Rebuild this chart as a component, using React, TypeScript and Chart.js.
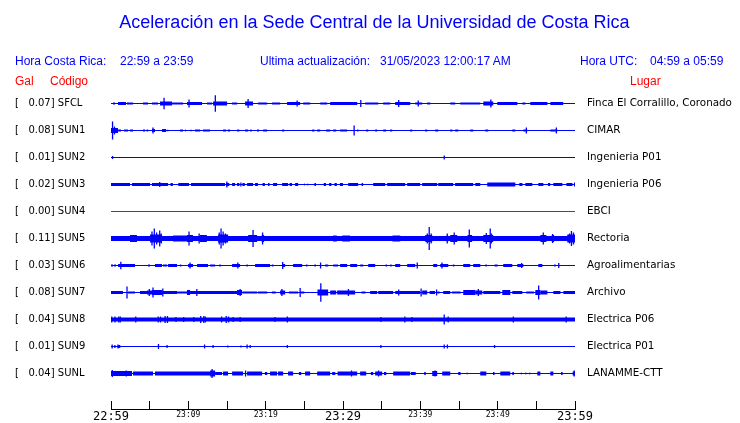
import React, { useEffect, useRef } from "react";
import { Chart, registerables } from "chart.js";

Chart.register(...registerables);

// ---------------- DATA ----------------
const TITLE = "Aceleración en la Sede Central de la Universidad de Costa Rica";
const LOCAL_TIME_RANGE = "22:59 a 23:59";
const UTC_TIME_RANGE = "04:59 a 05:59";
const LAST_UPDATE = "31/05/2023 12:00:17 AM";

const STATIONS = ["SFCL", "SUN1", "SUN2", "SUN3", "SUN4", "SUN5", "SUN6", "SUN7", "SUN8", "SUN9", "SUNL"];
const PEAK_GAL = [0.07, 0.08, 0.01, 0.02, 0.0, 0.11, 0.03, 0.08, 0.04, 0.01, 0.04];
const PLACES = [
  "Finca El Corralillo, Coronado",
  "CIMAR",
  "Ingenieria P01",
  "Ingenieria P06",
  "EBCI",
  "Rectoria",
  "Agroalimentarias",
  "Archivo",
  "Electrica P06",
  "Electrica P01",
  "LANAMME-CTT",
];
const OFFLINE_STATIONS = ["SUN4"];

// minutes after 22:59
const TIME_TICKS = [0, 5, 10, 15, 20, 25, 30, 35, 40, 45, 50, 55, 60];
const TIME_LABELS = ["22:59", "", "23:09", "", "23:19", "", "23:29", "", "23:39", "", "23:49", "", "23:59"];
const MAJOR_LABELS = ["22:59", "23:29", "23:59"];

// noise bursts: [startMinute, endMinute, halfAmplitude]
const SFCL_BURSTS = [
  [0.26, 0.52, 1], [0.91, 1.94, 1.5], [2.07, 2.85, 1], [4.14, 4.79, 1], [5.3, 6.08, 1], [6.34, 7.89, 2],
  [7.89, 9.32, 1], [9.83, 11.77, 1.5], [12.42, 13.07, 1], [13.2, 15.01, 2], [15.66, 16.3, 1], [17.34, 18.37, 2],
  [19.02, 20.19, 1], [20.83, 21.87, 1], [22.77, 24.46, 1.5], [24.85, 25.75, 1], [27.05, 27.95, 1],
  [28.34, 31.83, 1.5], [32.87, 34.55, 1], [35.2, 36.1, 1], [36.75, 38.69, 1.5], [39.34, 40.24, 1],
  [40.89, 41.28, 1], [43.87, 44.51, 1], [45.16, 47.75, 1], [48.14, 49.43, 2], [49.95, 52.54, 1.5],
  [53.19, 53.58, 1], [54.22, 56.43, 1.5], [56.81, 58.47, 1.5], [59.1, 59.2, 1.5],
];
const SUN1_BURSTS = [
  [0, 0.9, 2.5], [0.91, 1.3, 1], [1.7, 2.2, 1], [2.46, 2.85, 1], [3.75, 3.85, 1], [4.14, 4.4, 1], [4.6, 4.8, 1],
  [5.3, 5.69, 1.5], [6.6, 7.12, 1.5], [7.3, 7.4, 1], [8.93, 9.32, 1], [9.6, 9.7, 1], [10.3, 10.4, 1], [10.87, 11.52, 1],
  [11.9, 12.81, 1], [14.49, 14.88, 1], [15.1, 15.4, 1], [16.3, 16.6, 1], [17.34, 17.73, 1], [18.0, 18.2, 1],
  [18.89, 19.15, 1], [19.67, 20.19, 1], [22.13, 22.4, 1], [26.01, 26.3, 1], [26.66, 27.05, 1],
  [27.82, 28.34, 1], [28.73, 29.12, 1], [29.63, 30.54, 1], [31.83, 32.0, 1], [33.0, 33.26, 1],
  [34.16, 34.42, 1], [35.2, 35.58, 1], [36.1, 36.36, 1], [38.69, 38.95, 1], [40.63, 40.89, 1],
  [41.93, 42.31, 1], [43.87, 44.13, 1], [44.51, 44.9, 1], [46.45, 46.84, 1], [48.4, 48.78, 1],
  [51.89, 52.28, 1], [53.32, 53.83, 1], [56.81, 57.72, 1],
];
const SUN2_BURSTS: number[][] = [];
const SUN3_BURSTS = [
  [0, 2.46, 1.5], [2.72, 5.05, 1.5], [5.3, 7.38, 1.5], [7.7, 8.0, 1.5], [8.7, 10.09, 1.5], [10.35, 14.75, 1.5],
  [14.88, 15.3, 1.5], [15.66, 16.05, 1.5], [16.3, 16.6, 1.5], [17.0, 17.3, 1.5], [17.6, 18.37, 1.5], [18.63, 19.0, 1.5],
  [19.6, 19.9, 1.5], [20.3, 20.5, 1.5], [20.96, 21.48, 1.5], [22.13, 22.9, 1.5], [23.1, 23.4, 1.5], [23.81, 24.2, 1.5],
  [25.0, 25.1, 1], [25.4, 25.5, 1], [26.3, 26.5, 1.5], [26.9, 27.0, 1], [27.5, 27.8, 1.5], [28.2, 28.5, 1.5],
  [28.9, 29.2, 1.5], [29.6, 30.0, 1.5], [30.67, 31.96, 1.5], [32.4, 32.6, 1.5], [33.9, 35.46, 1.5], [35.71, 38.04, 1.5],
  [38.3, 39.98, 1.5], [40.24, 42.18, 1.5], [42.31, 44.25, 1.5], [44.5, 46.84, 1.5], [47.1, 47.75, 1.5],
  [48.65, 52.28, 2], [52.8, 53.2, 1.5], [53.58, 54.48, 1.5], [55.26, 55.91, 1.5], [56.5, 56.8, 1.5],
  [57.2, 58.37, 1.5], [58.89, 59.67, 1.5],
];
const SUN4_BURSTS: number[][] = [];
const SUN5_BURSTS = [
  [0, 60, 2.5], [2.46, 3.36, 3.5], [5.05, 6.6, 4], [8.02, 9.83, 3], [9.83, 10.6, 3.5], [11.5, 12.4, 3.5],
  [13.85, 15.14, 4], [17.73, 18.89, 3.5], [19.5, 19.8, 3.5], [28.7, 29.2, 3], [29.9, 30.9, 3], [36.4, 37.4, 3],
  [40.63, 41.54, 3.5], [43.4, 43.6, 3], [43.87, 44.77, 3.5], [46.1, 46.7, 3.5], [48.14, 48.78, 3.5],
  [48.78, 49.43, 3.5], [55.52, 56.3, 3.5], [57.0, 57.3, 3.5], [59.0, 60, 4],
];
const SUN6_BURSTS = [
  [0, 0.26, 1], [0.4, 0.65, 1], [0.91, 3.1, 1.5], [4.79, 5.05, 1], [5.69, 6.6, 1.5], [6.73, 7.25, 1], [7.38, 8.54, 1.5],
  [8.9, 9.1, 1], [9.96, 10.61, 1.5], [11.13, 12.55, 1.5], [12.81, 13.46, 1], [14.0, 14.2, 1], [15.66, 16.69, 1.5],
  [17.5, 17.7, 1], [18.63, 20.57, 1.5], [20.8, 21.0, 1], [22.13, 22.52, 1.5], [23.55, 24.72, 1.5], [25.2, 25.4, 1],
  [26.3, 26.5, 1], [27.69, 28.08, 1], [28.73, 29.37, 1], [29.63, 30.54, 1.5], [30.93, 31.83, 1.5], [32.22, 32.61, 1],
  [33.26, 34.16, 1.5], [35.5, 35.7, 1], [36.1, 36.3, 1], [36.75, 37.4, 1.5], [38.3, 39.34, 1.5], [41.67, 42.18, 1.5],
  [42.57, 43.61, 1.5], [44.2, 44.4, 1], [45.55, 46.45, 1.5], [46.84, 47.75, 1.5], [48.4, 48.6, 1], [49.6, 50.0, 1],
  [50.72, 51.89, 1.5], [52.54, 53.32, 1.5], [55.26, 55.78, 1.5], [57.3, 57.5, 1],
];
const SUN7_BURSTS = [
  [0, 1.55, 1.5], [2.2, 3.1, 1], [3.75, 4.66, 1.5], [4.66, 5.3, 2], [5.3, 6.6, 2.5], [6.6, 8.54, 1.5], [8.54, 9.83, 1],
  [9.83, 10.22, 2.5], [10.22, 16.3, 1.5], [16.3, 16.95, 2.5], [17.0, 18.9, 1], [19.0, 20.2, 1], [20.8, 21.3, 1],
  [21.87, 22.52, 2], [23.0, 24.2, 1], [24.5, 25.0, 1], [26.7, 28.08, 3], [28.34, 29.12, 2], [29.24, 31.57, 2],
  [32.4, 32.9, 1], [33.51, 34.42, 1.5], [34.55, 36.49, 1.5], [36.75, 39.98, 1.5], [40.24, 40.89, 2], [41.2, 41.9, 1.5],
  [42.2, 42.5, 1], [42.96, 43.87, 1.5], [44.1, 45.2, 1], [45.55, 47.1, 2.5], [47.1, 48.01, 2], [48.14, 50.34, 1.5],
  [50.6, 51.63, 2.5], [51.89, 53.19, 1.5], [53.7, 54.7, 1], [54.87, 55.52, 2.5], [55.52, 56.43, 2], [57.2, 58.11, 1.5],
  [58.5, 60, 1.5],
];
const SUN8_BURSTS = [[0, 60, 2]];
const SUN9_BURSTS = [[0.9, 1.2, 1.5]];
const SUNL_BURSTS = [
  [0, 2.72, 2.5], [2.85, 5.43, 2], [5.69, 12.81, 2], [12.81, 13.46, 3], [13.46, 14.36, 1.5], [14.49, 15.14, 2],
  [15.66, 17.08, 2], [17.6, 19.54, 2], [19.9, 20.2, 1.5], [20.57, 21.48, 2], [21.6, 22.26, 2], [22.9, 23.55, 2],
  [24.3, 24.6, 1.5], [25.1, 25.75, 2], [26.66, 28.34, 2], [28.6, 29.0, 1.5], [29.3, 31.83, 2], [32.22, 33.0, 2],
  [33.6, 33.9, 1.5], [34.16, 35.07, 2], [35.3, 35.6, 1.5], [36.49, 38.69, 2], [38.8, 39.4, 1.5], [40.5, 40.7, 1.5],
  [41.54, 42.18, 2.5], [42.83, 43.87, 2], [44.9, 45.2, 1.5], [46.0, 46.1, 1], [47.75, 48.53, 2], [49.4, 49.6, 1.5],
  [50.34, 51.63, 2], [51.89, 52.1, 1.5], [53.0, 53.1, 1], [53.6, 53.7, 1], [54.1, 54.2, 1], [55.13, 55.52, 2],
  [56.81, 57.2, 2], [58.2, 58.4, 1.5], [59.7, 60, 2],
];

// isolated peaks: [minute, halfAmplitude]
const SFCL_SPIKES = [[6.86, 5.7], [10.09, 4], [13.49, 8.3], [17.73, 4.5], [24.07, 3], [32.3, 3.5], [37.2, 3.5], [39.73, 3], [49.12, 4]];
const SUN1_SPIKES = [[0.2, 9], [0.45, 4], [5.43, 3], [31.44, 5], [53.71, 3], [57.59, 3]];
const SUN2_SPIKES = [[0.2, 1.5], [43.09, 2]];
const SUN3_SPIKES = [[6.3, 2.5], [14.98, 3], [16.8, 2], [59.95, 2]];
const SUN4_SPIKES: number[][] = [];
const SUN5_SPIKES = [
  [5.3, 7], [5.6, 10], [5.9, 6], [6.3, 8], [6.5, 5], [10.09, 7], [11.4, 5], [14.0, 6], [14.23, 10], [14.5, 7],
  [14.8, 5], [18.37, 8.5], [19.6, 6], [40.9, 5], [41.15, 11.5], [41.4, 5], [43.48, 5], [44.38, 6], [46.33, 9],
  [48.53, 5.5], [49.04, 10], [49.2, 5], [55.9, 6], [57.1, 4.5], [59.3, 5], [59.54, 7.5], [59.8, 6],
];
const SUN6_SPIKES = [[1.27, 3.7], [10.22, 3], [16.4, 3], [22.2, 3.5], [27.1, 3], [39.6, 3], [42.8, 3], [53.1, 2.5], [57.9, 2.5]];
const SUN7_SPIKES = [
  [2.07, 6], [4.95, 3.5], [5.43, 5], [6.7, 4], [11.1, 3.5], [16.7, 3.5], [22.1, 3.5], [24.46, 4.5], [27.13, 9.3],
  [30.7, 3.5], [37.2, 3], [40.1, 4], [42.1, 3], [47.5, 3.5], [55.3, 7],
];
const SUN8_SPIKES = [
  [0.1, 3], [0.52, 3], [1.0, 3], [1.2, 3], [3.2, 3], [6.1, 3], [6.4, 3], [7.0, 3.5], [7.3, 3.5], [8.4, 2.5], [9.4, 2.5],
  [10.7, 2.5], [11.6, 3.5], [12.0, 3.5], [12.2, 3], [14.3, 3], [14.9, 3.5], [15.2, 3], [15.8, 2.5], [16.7, 2.5],
  [21.2, 2.5], [22.8, 3], [34.9, 2.5], [38.0, 3], [38.9, 2.5], [43.09, 5], [43.6, 3], [52.02, 3], [58.86, 3],
];
const SUN9_SPIKES = [
  [0.15, 2], [0.5, 1.5], [0.9, 2], [6.14, 2.5], [7.25, 1.5], [12.1, 2], [13.2, 1.5], [15.1, 1], [16.8, 1], [17.6, 2],
  [18.0, 1.5], [22.8, 1.5], [34.9, 1.5], [43.09, 2], [43.5, 2], [49.6, 1.5],
];
const SUNL_SPIKES = [[0.17, 3.5], [1.97, 3], [13.07, 4.5], [17.4, 3], [31.1, 3], [34.6, 3], [41.9, 3], [59.9, 3]];

const BURSTS = [SFCL_BURSTS, SUN1_BURSTS, SUN2_BURSTS, SUN3_BURSTS, SUN4_BURSTS, SUN5_BURSTS, SUN6_BURSTS, SUN7_BURSTS, SUN8_BURSTS, SUN9_BURSTS, SUNL_BURSTS];
const SPIKES = [SFCL_SPIKES, SUN1_SPIKES, SUN2_SPIKES, SUN3_SPIKES, SUN4_SPIKES, SUN5_SPIKES, SUN6_SPIKES, SUN7_SPIKES, SUN8_SPIKES, SUN9_SPIKES, SUNL_SPIKES];

// ---------------- LAYOUT / STYLE ----------------
const ROW_GAP = 27;
const Y_MIN = -13.5;
const Y_MAX = ROW_GAP * (STATIONS.length - 1) + 35.5;
const BLUE = "#0000ff";
const RED = "#ff0000";
const SANS = "'Liberation Sans', Arial, sans-serif";

function buildDatasets() {
  const ds: any[] = [];
  const spikeData: any[] = [];
  SPIKES.forEach((list, i) => {
    const row = i * ROW_GAP;
    list.forEach(([t, a]) => spikeData.push({ x: t, y: [row - a, row + a] }));
  });
  ds.push({
    type: "bar",
    data: spikeData,
    backgroundColor: BLUE,
    borderWidth: 0,
    barThickness: 1.3,
    inflateAmount: 0,
    grouped: false,
    xAxisID: "x",
    yAxisID: "y",
  });
  const groups = new Map<number, any[]>();
  BURSTS.forEach((list, i) => {
    const row = i * ROW_GAP;
    list.forEach(([t0, t1, a]) => {
      if (!groups.has(a)) groups.set(a, []);
      groups.get(a)!.push({ x: t0, y: row }, { x: t1, y: row }, { x: t1, y: null });
    });
  });
  Array.from(groups.keys())
    .sort((p, q) => q - p)
    .forEach((a) => {
      ds.push({
        type: "line",
        data: groups.get(a),
        borderColor: BLUE,
        borderWidth: a * 2,
        borderCapStyle: "butt",
        pointRadius: 0,
        spanGaps: false,
        fill: false,
        tension: 0,
        xAxisID: "x",
        yAxisID: "y",
      });
    });
  STATIONS.forEach((s, i) => {
    const row = i * ROW_GAP;
    ds.push({
      type: "line",
      data: [
        { x: TIME_TICKS[0], y: row },
        { x: TIME_TICKS[TIME_TICKS.length - 1], y: row },
      ],
      borderColor: OFFLINE_STATIONS.includes(s) ? RED : BLUE,
      borderWidth: 1,
      pointRadius: 0,
      fill: false,
      xAxisID: "x",
      yAxisID: "y",
    });
  });
  return ds;
}

const rowTicks = (scale: any) => {
  scale.ticks = STATIONS.map((_, i) => ({ value: i * ROW_GAP }));
};
const noPad = (s: any) => {
  s.paddingTop = 0;
  s.paddingBottom = 0;
  s.paddingLeft = 0;
  s.paddingRight = 0;
};

export default function App() {
  const ref = useRef<HTMLCanvasElement>(null);
  useEffect(() => {
    if (!ref.current) return;
    const chart = new Chart(ref.current, {
      type: "bar",
      data: { datasets: buildDatasets() },
      options: {
        animation: false,
        responsive: false,
        devicePixelRatio: 1,
        events: [],
        layout: { padding: { left: 15, top: 90, right: 0, bottom: 0 } },
        plugins: { legend: { display: false }, title: { display: false }, tooltip: { enabled: false } },
        scales: {
          x: {
            type: "linear",
            min: TIME_TICKS[0],
            max: TIME_TICKS[TIME_TICKS.length - 1],
            offset: false,
            afterBuildTicks: (s: any) => {
              s.ticks = TIME_TICKS.map((v) => ({ value: v }));
            },
            afterFit: (s: any) => {
              s.height = 14;
              noPad(s);
            },
            grid: {
              display: true,
              offset: false,
              drawOnChartArea: false,
              drawTicks: true,
              tickLength: -8,
              color: "#000",
              lineWidth: 1,
            },
            border: { display: true, color: "#000", width: 1 },
            ticks: {
              autoSkip: false,
              maxRotation: 0,
              minRotation: 0,
              padding: 9,
              color: "#000",
              callback: (_v: any, i: number) => TIME_LABELS[i],
              font: (ctx: any) =>
                MAJOR_LABELS.includes(ctx.tick && ctx.tick.label)
                  ? { family: "'DejaVu Sans Mono'", size: 12 }
                  : { family: "'DejaVu Sans Mono'", size: 8 },
            },
          },
          y: {
            type: "linear",
            position: "left",
            reverse: true,
            min: Y_MIN,
            max: Y_MAX,
            afterBuildTicks: rowTicks,
            afterFit: (s: any) => {
              s.width = 96;
              noPad(s);
            },
            grid: { display: false, drawTicks: false },
            border: { display: false },
            ticks: {
              autoSkip: false,
              crossAlign: "far",
              padding: 0,
              color: "#000",
              font: { family: "'DejaVu Sans'", size: 10 },
              callback: (_v: any, i: number) => `[   ${PEAK_GAL[i].toFixed(2)}] ${STATIONS[i]}`,
            },
          },
          y2: {
            type: "linear",
            position: "right",
            reverse: true,
            min: Y_MIN,
            max: Y_MAX,
            afterBuildTicks: rowTicks,
            afterFit: (s: any) => {
              s.width = 165;
              noPad(s);
            },
            grid: { display: false, drawTicks: false },
            border: { display: false },
            ticks: {
              autoSkip: false,
              crossAlign: "near",
              padding: 12,
              color: "#000",
              font: { family: "'DejaVu Sans'", size: 10.35 },
              callback: (_v: any, i: number) => PLACES[i],
            },
          },
        },
      } as any,
    });
    return () => chart.destroy();
  }, []);

  const label = (text: string, x: number, y: number, color: string) => (
    <span
      key={text + x}
      style={{
        position: "absolute",
        left: x,
        top: y,
        color,
        font: `12px/14px ${SANS}`,
        whiteSpace: "pre",
      }}
    >
      {text}
    </span>
  );

  return (
    <div
      style={{
        position: "fixed",
        left: 0,
        top: 0,
        width: 740,
        height: 423,
        background: "#fff",
        overflow: "hidden",
      }}
    >
      <canvas ref={ref} width={740} height={423} style={{ position: "absolute", left: 0, top: 0 }} />
      <div
        style={{
          position: "absolute",
          left: 0,
          top: 12,
          width: 749,
          textAlign: "center",
          color: BLUE,
          font: `18px/20px ${SANS}`,
          whiteSpace: "nowrap",
        }}
      >
        {TITLE}
      </div>
      {label("Hora Costa Rica:", 15, 54, BLUE)}
      {label(LOCAL_TIME_RANGE, 120, 54, BLUE)}
      {label("Ultima actualización:", 260, 54, BLUE)}
      {label(LAST_UPDATE, 380, 54, BLUE)}
      {label("Hora UTC:", 580, 54, BLUE)}
      {label(UTC_TIME_RANGE, 650, 54, BLUE)}
      {label("Gal", 15, 74, RED)}
      {label("Código", 50, 74, RED)}
      {label("Lugar", 630, 74, RED)}
    </div>
  );
}
